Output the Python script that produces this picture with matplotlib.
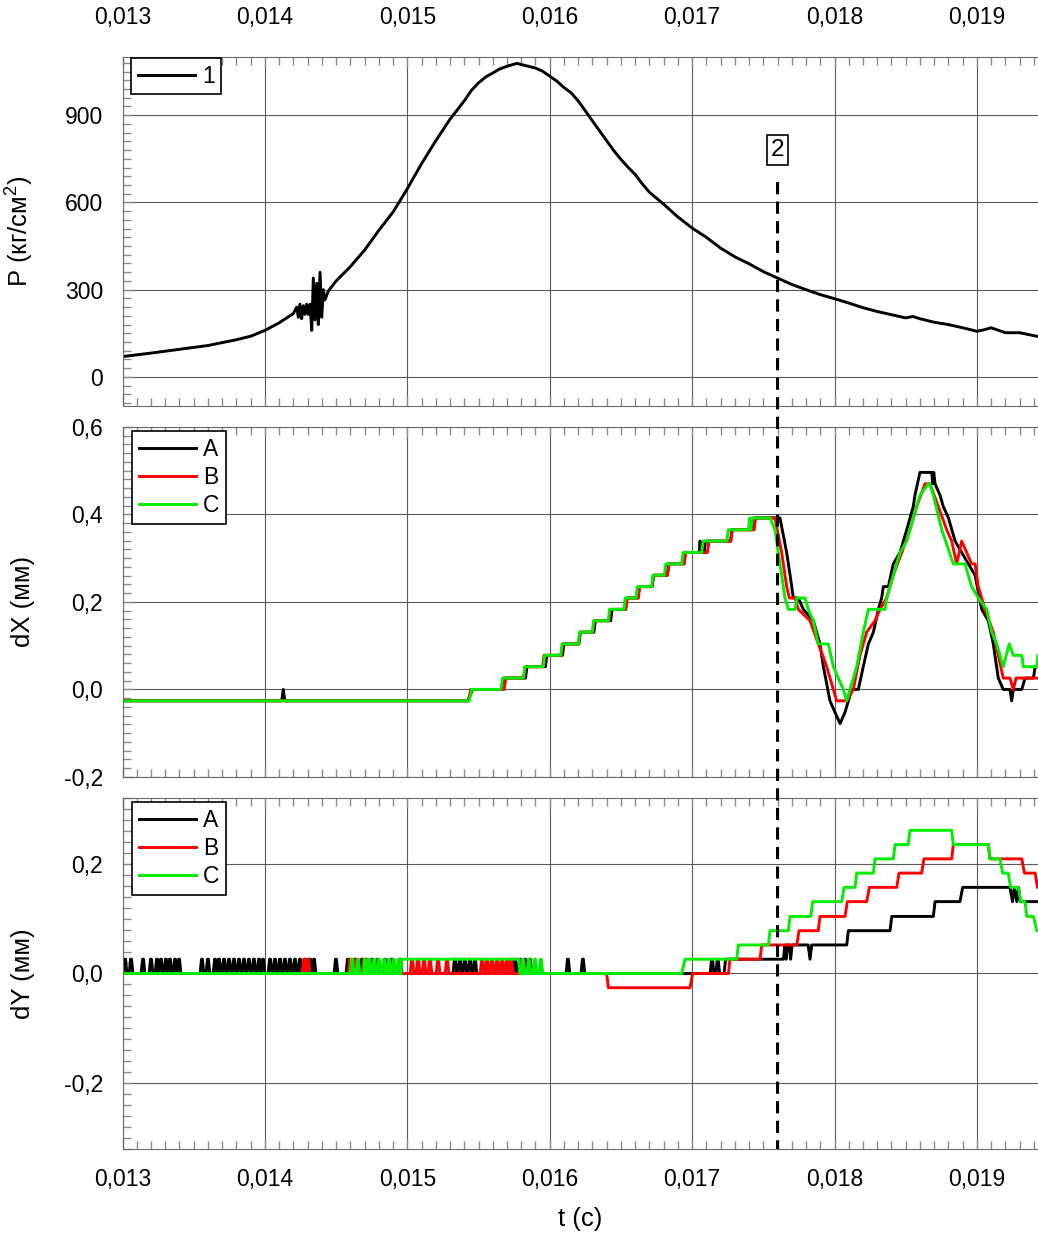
import numpy as np
import matplotlib
matplotlib.use('Agg')
import matplotlib.pyplot as plt
from matplotlib.ticker import MultipleLocator, FuncFormatter
from matplotlib.patches import ConnectionPatch

plt.rcParams['font.family'] = ['Liberation Sans', 'DejaVu Sans']
plt.rcParams['mathtext.fontset'] = 'custom'
plt.rcParams['mathtext.rm'] = 'Liberation Sans'
plt.rcParams['font.size'] = 16.5

# pressure trace, (t [s], P [kg/cm2])
pressure = [
    (0.01300, 70), (0.01320, 82), (0.01340, 95), (0.01360, 108), (0.01380, 128),
    (0.01390, 140), (0.01400, 160), (0.01410, 186), (0.01420, 218), (0.014223, 240),
    (0.014235, 205), (0.014246, 250), (0.014258, 200), (0.014270, 245), (0.014282, 215),
    (0.014293, 250), (0.014305, 215), (0.014317, 250), (0.014329, 160), (0.014340, 340),
    (0.014352, 196), (0.014364, 322), (0.014375, 180), (0.014387, 360), (0.014399, 205),
    (0.014410, 300), (0.014422, 265), (0.014445, 295), (0.01450, 330), (0.01460, 379),
    (0.01470, 436), (0.01480, 504), (0.01490, 567), (0.01500, 647), (0.01510, 733),
    (0.01520, 812), (0.01530, 886), (0.01540, 949), (0.01545, 985), (0.01550, 1011),
    (0.01555, 1031), (0.01560, 1045), (0.01565, 1059), (0.01570, 1068), (0.01577, 1078),
    (0.01580, 1074), (0.01585, 1068), (0.01590, 1062), (0.01595, 1051), (0.01600, 1034),
    (0.01605, 1017), (0.01610, 995), (0.01615, 977), (0.01620, 949), (0.01625, 915),
    (0.01630, 880), (0.01635, 846), (0.01640, 812), (0.01645, 778), (0.01650, 748),
    (0.01655, 721), (0.01660, 696), (0.01665, 664), (0.01670, 635), (0.01680, 594),
    (0.01690, 550), (0.01700, 512), (0.01710, 480), (0.01720, 443), (0.01730, 413),
    (0.01740, 389), (0.01750, 362), (0.01760, 340), (0.01770, 318), (0.01780, 300),
    (0.01790, 283), (0.01800, 269), (0.01810, 254), (0.01820, 238), (0.01830, 225),
    (0.01840, 214), (0.01850, 203), (0.01855, 208), (0.01860, 200), (0.01870, 188),
    (0.01880, 180), (0.01890, 169), (0.01900, 157), (0.01905, 162), (0.01910, 169),
    (0.01920, 152), (0.01930, 152), (0.01942, 140),
]

# displacement dX, mm
dx_a = [
    (0.01300, -0.026), (0.014118, -0.026), (0.014129, 0.0), (0.014140, -0.026),
    (0.015424, -0.026), (0.015459, 0.0), (0.015660, 0.0), (0.015675, 0.026),
    (0.015830, 0.026), (0.015840, 0.052), (0.015970, 0.052), (0.015980, 0.078),
    (0.016090, 0.078), (0.016100, 0.104), (0.016205, 0.104), (0.016215, 0.131),
    (0.016310, 0.131), (0.016320, 0.157), (0.016428, 0.157), (0.016438, 0.183),
    (0.016532, 0.183), (0.016542, 0.209), (0.016620, 0.209), (0.016630, 0.235),
    (0.016720, 0.235), (0.016730, 0.261), (0.016825, 0.261), (0.016835, 0.287),
    (0.016942, 0.287), (0.016952, 0.313), (0.017050, 0.313), (0.017056, 0.339),
    (0.017062, 0.313), (0.017085, 0.313), (0.017093, 0.339), (0.017270, 0.339),
    (0.017280, 0.365), (0.017425, 0.365), (0.017435, 0.392), (0.017617, 0.392),
    (0.017664, 0.313), (0.017688, 0.261), (0.017711, 0.209), (0.017746, 0.209),
    (0.017781, 0.183), (0.017851, 0.157), (0.017898, 0.104), (0.017922, 0.052),
    (0.017968, -0.026), (0.018003, -0.052), (0.018039, -0.078), (0.018074, -0.052),
    (0.018121, 0.0), (0.018167, 0.0), (0.018202, 0.052), (0.018238, 0.104),
    (0.018273, 0.131), (0.018308, 0.183), (0.018331, 0.209), (0.018343, 0.235),
    (0.018378, 0.235), (0.018413, 0.287), (0.018460, 0.313), (0.018507, 0.365),
    (0.018553, 0.418), (0.018565, 0.444), (0.018600, 0.496), (0.018683, 0.496),
    (0.018690, 0.470), (0.018697, 0.496), (0.018706, 0.470), (0.018741, 0.444),
    (0.018764, 0.418), (0.018800, 0.392), (0.018847, 0.339), (0.018893, 0.313),
    (0.018940, 0.287), (0.018987, 0.261), (0.019034, 0.183), (0.019080, 0.157),
    (0.019115, 0.104), (0.019150, 0.026), (0.019185, 0.0), (0.019232, 0.0),
    (0.019244, -0.026), (0.019256, 0.0), (0.019315, 0.0), (0.019338, 0.026),
    (0.019397, 0.026), (0.019409, 0.052), (0.019429, 0.052),
]
dx_b = [
    (0.01300, -0.026), (0.015430, -0.026), (0.015445, 0.0), (0.015680, 0.0),
    (0.015692, 0.026), (0.015818, 0.026), (0.015828, 0.052), (0.015950, 0.052),
    (0.015960, 0.078), (0.016082, 0.078), (0.016092, 0.104), (0.016203, 0.104),
    (0.016212, 0.131), (0.016302, 0.131), (0.016312, 0.157), (0.016415, 0.157),
    (0.016425, 0.183), (0.016535, 0.183), (0.016545, 0.209), (0.016622, 0.209),
    (0.016632, 0.235), (0.016718, 0.235), (0.016728, 0.261), (0.016828, 0.261),
    (0.016838, 0.287), (0.016945, 0.287), (0.016955, 0.313), (0.017108, 0.313),
    (0.017118, 0.339), (0.017272, 0.339), (0.017282, 0.365), (0.017436, 0.365),
    (0.017446, 0.392), (0.017582, 0.392), (0.017629, 0.313), (0.017664, 0.235),
    (0.017683, 0.209), (0.017723, 0.209), (0.017746, 0.183), (0.017828, 0.157),
    (0.017886, 0.104), (0.017917, 0.078), (0.017945, 0.052), (0.017992, 0.0),
    (0.018015, -0.026), (0.018086, -0.026), (0.018132, 0.0), (0.018179, 0.078),
    (0.018226, 0.131), (0.018284, 0.157), (0.018320, 0.183), (0.018366, 0.209),
    (0.018413, 0.261), (0.018472, 0.313), (0.018530, 0.365), (0.018577, 0.418),
    (0.018635, 0.470), (0.018670, 0.470), (0.018729, 0.418), (0.018788, 0.365),
    (0.018823, 0.339), (0.018858, 0.287), (0.018893, 0.339), (0.018928, 0.313),
    (0.018963, 0.287), (0.018987, 0.287), (0.019010, 0.235), (0.019057, 0.183),
    (0.019115, 0.131), (0.019150, 0.078), (0.019185, 0.026), (0.019232, 0.026),
    (0.019256, 0.0), (0.019275, 0.026), (0.019429, 0.026),
]
dx_c = [
    (0.01300, -0.026), (0.015435, -0.026), (0.015452, 0.0), (0.015658, 0.0),
    (0.015670, 0.026), (0.015815, 0.026), (0.015826, 0.052), (0.015955, 0.052),
    (0.015965, 0.078), (0.016077, 0.078), (0.016087, 0.104), (0.016201, 0.104),
    (0.016210, 0.131), (0.016299, 0.131), (0.016308, 0.157), (0.016412, 0.157),
    (0.016420, 0.183), (0.016522, 0.183), (0.016530, 0.209), (0.016606, 0.209),
    (0.016615, 0.235), (0.016716, 0.235), (0.016725, 0.261), (0.016805, 0.261),
    (0.016815, 0.287), (0.016927, 0.287), (0.016938, 0.313), (0.017067, 0.313),
    (0.017078, 0.339), (0.017243, 0.339), (0.017255, 0.365), (0.017395, 0.365),
    (0.017405, 0.392), (0.017412, 0.365), (0.017424, 0.392), (0.017547, 0.392),
    (0.017582, 0.365), (0.017605, 0.313), (0.017629, 0.261), (0.017652, 0.209),
    (0.017676, 0.183), (0.017723, 0.183), (0.017735, 0.209), (0.017793, 0.209),
    (0.017816, 0.183), (0.017851, 0.157), (0.017886, 0.104), (0.017957, 0.104),
    (0.017992, 0.052), (0.018027, 0.026), (0.018062, 0.0), (0.018086, -0.026),
    (0.018109, 0.0), (0.018156, 0.052), (0.018202, 0.131), (0.018238, 0.183),
    (0.018355, 0.183), (0.018366, 0.209), (0.018413, 0.261), (0.018460, 0.313),
    (0.018507, 0.339), (0.018553, 0.392), (0.018600, 0.444), (0.018659, 0.470),
    (0.018670, 0.470), (0.018694, 0.444), (0.018753, 0.365), (0.018834, 0.287),
    (0.018916, 0.287), (0.018963, 0.235), (0.019010, 0.209), (0.019069, 0.183),
    (0.019104, 0.131), (0.019139, 0.104), (0.019185, 0.052), (0.019227, 0.104),
    (0.019256, 0.078), (0.019315, 0.078), (0.019326, 0.052), (0.019420, 0.052),
    (0.019429, 0.078),
]

# displacement dY, mm
dy_a = [
    (0.01300, 0.0), (0.017225, 0.0), (0.017235, 0.026), (0.017641, 0.026),
    (0.017652, 0.052), (0.017660, 0.026), (0.017670, 0.052), (0.017682, 0.052),
    (0.017692, 0.026), (0.017702, 0.052), (0.017815, 0.052), (0.017828, 0.026),
    (0.017840, 0.052), (0.018086, 0.052), (0.018097, 0.078), (0.018390, 0.078),
    (0.018402, 0.104), (0.018694, 0.104), (0.018706, 0.131), (0.018881, 0.131),
    (0.018900, 0.157), (0.019232, 0.157), (0.019250, 0.131), (0.019262, 0.157),
    (0.019280, 0.131), (0.019292, 0.157), (0.019305, 0.131), (0.019429, 0.131),
]
dy_b = [
    (0.01300, 0.0), (0.016400, 0.0), (0.016412, -0.026), (0.016985, -0.026),
    (0.017004, 0.0), (0.017255, 0.0), (0.017266, 0.026), (0.017477, 0.026),
    (0.017489, 0.052), (0.017735, 0.052), (0.017751, 0.078), (0.017886, 0.078),
    (0.017898, 0.104), (0.018074, 0.104), (0.018090, 0.131), (0.018226, 0.131),
    (0.018245, 0.157), (0.018437, 0.157), (0.018453, 0.183), (0.018612, 0.183),
    (0.018628, 0.209), (0.018823, 0.209), (0.018834, 0.235), (0.019080, 0.235),
    (0.019092, 0.209), (0.019315, 0.209), (0.019334, 0.183), (0.019409, 0.183),
    (0.019425, 0.157), (0.019429, 0.157),
]
dy_c = [
    (0.01300, 0.0), (0.014955, 0.0), (0.014962, 0.026), (0.015783, 0.026),
    (0.015790, 0.0), (0.016927, 0.0), (0.016950, 0.026), (0.017313, 0.026),
    (0.017325, 0.052), (0.017536, 0.052), (0.017547, 0.078), (0.017676, 0.078),
    (0.017688, 0.104), (0.017833, 0.104), (0.017847, 0.131), (0.018051, 0.131),
    (0.018067, 0.157), (0.018144, 0.157), (0.018156, 0.183), (0.018273, 0.183),
    (0.018284, 0.209), (0.018413, 0.209), (0.018425, 0.235), (0.018518, 0.235),
    (0.018530, 0.261), (0.018823, 0.261), (0.018834, 0.235), (0.019080, 0.235),
    (0.019092, 0.209), (0.019162, 0.209), (0.019181, 0.183), (0.019220, 0.183),
    (0.019237, 0.157), (0.019291, 0.157), (0.019308, 0.131), (0.019338, 0.131),
    (0.019350, 0.104), (0.019397, 0.104), (0.019420, 0.078), (0.019429, 0.078),
]

# one-count jitter of the dY sensors around zero (spike centre times, s)
dy_a_spikes = [
    0.013018, 0.013060, 0.013144, 0.013200, 0.013242, 0.013270, 0.013305, 0.013333,
    0.013369, 0.013397, 0.013558, 0.013600, 0.013650, 0.013678, 0.013713, 0.013748,
    0.013783, 0.013818, 0.013853, 0.013888, 0.013923, 0.013959, 0.013987, 0.014036,
    0.014071, 0.014106, 0.014141, 0.014176, 0.014211, 0.014246, 0.014282, 0.014317,
    0.014345, 0.014499, 0.014583, 0.014633, 0.014682, 0.014710, 0.014752, 0.014794,
    0.014843, 0.014892, 0.014948, 0.015334, 0.015369, 0.015404, 0.015440, 0.015475,
    0.015756, 0.015791, 0.015826, 0.015861, 0.016128, 0.016233, 0.017140, 0.017180,
]
dy_b_spikes = [
    0.014275, 0.014303, 0.014598, 0.014640, 0.014696, 0.015033, 0.015075, 0.015117,
    0.015159, 0.015216, 0.015279, 0.015525, 0.015560, 0.015595, 0.015631, 0.015666,
    0.015701, 0.015729,
]
dy_c_spikes = [
    0.014612, 0.014654, 0.014703, 0.014731, 0.014766, 0.014801, 0.014836, 0.014871,
    0.014906, 0.014941, 0.015812, 0.015854, 0.015896, 0.015938,
]
dy_step = 0.026

t_mark = 0.0176
p_mark_label = 781
p_mark_top = 670

colors = {'A': 'black', 'B': '#ff0000', 'C': '#00ee00'}
LW = 2.1


def spike_path(centres, base, top, width=2.6e-5):
    xs, ys = [], []
    for c in centres:
        xs += [c - width / 2, c - width / 8, c + width / 8, c + width / 2, np.nan]
        ys += [base, top, top, base, np.nan]
    return xs, ys


def comma(fmt):
    def f(v, pos):
        if abs(v) < 1e-12:
            v = 0.0
        return format(v, fmt).replace('.', ',')
    return FuncFormatter(f)


fig = plt.figure(figsize=(10.38, 12.36), dpi=100)
left = 122.5 / 1038
width = 1 - left
ax1 = fig.add_axes([left, 0.6715, width, 0.2824])
ax2 = fig.add_axes([left, 0.3714, width, 0.2832])
ax3 = fig.add_axes([left, 0.0704, width, 0.2840])

# pressure
t, p = zip(*pressure)
ax1.plot(t, p, color='black', lw=LW, label='1')
ax1.set_ylim(-100, 1100)
ax1.yaxis.set_major_locator(MultipleLocator(300))
ax1.yaxis.set_minor_locator(MultipleLocator(30))
ax1.yaxis.set_major_formatter(comma('.0f'))
ax1.set_ylabel('P (кг/см$^{\\mathregular{2}}$)', fontsize=18.5)

# dX
for name, series in (('A', dx_a), ('B', dx_b), ('C', dx_c)):
    t, v = zip(*series)
    ax2.plot(t, v, color=colors[name], lw=LW, label=name)
ax2.set_ylim(-0.2, 0.6)
ax2.set_ylabel('dX (мм)', fontsize=18.5)

# dY
for name, series, spikes in (('A', dy_a, dy_a_spikes), ('B', dy_b, dy_b_spikes),
                             ('C', dy_c, dy_c_spikes)):
    t, v = zip(*series)
    ax3.plot(t, v, color=colors[name], lw=LW, label=name)
    sx, sy = spike_path(spikes, 0.0, dy_step)
    ax3.plot(sx, sy, color=colors[name], lw=LW)
ax3.set_ylim(-0.32, 0.32)
ax3.set_ylabel('dY (мм)', fontsize=18.5)
ax3.set_xlabel('t (с)', fontsize=18.5, labelpad=11)

for ax in (ax2, ax3):
    ax.yaxis.set_major_locator(MultipleLocator(0.2))
    ax.yaxis.set_minor_locator(MultipleLocator(0.02))
    ax.yaxis.set_major_formatter(comma('.1f'))

for ax in (ax1, ax2, ax3):
    ax.set_xlim(0.013, 0.019429)
    ax.xaxis.set_major_locator(MultipleLocator(0.001))
    ax.xaxis.set_minor_locator(MultipleLocator(0.0001))
    ax.xaxis.set_major_formatter(comma('.3f'))
    ax.grid(True, which='major', color='#5a5a5a', lw=0.8)
    ax.tick_params(which='both', direction='in', top=True, bottom=True,
                   left=True, right=False, color='#8a8a8a', width=1,
                   labelsize=16.5)
    ax.tick_params(which='major', length=7)
    ax.tick_params(which='minor', length=6)
    ax.tick_params(axis='y', pad=14)
    ax.tick_params(axis='x', labelbottom=False, labeltop=False)
    ax.spines['right'].set_visible(False)
    for s in ('left', 'top', 'bottom'):
        ax.spines[s].set_color('#6a6a6a')
    ax.yaxis.set_label_coords(-0.096, 0.5)

ax1.tick_params(axis='x', labeltop=True, pad=20)
ax3.tick_params(axis='x', labelbottom=True, pad=14)

leg_kw = dict(loc='upper left', borderaxespad=0, fancybox=False, framealpha=1,
              edgecolor='black', handlelength=2.5, handletextpad=0.3,
              borderpad=0.3, labelspacing=0.22, fontsize=16.5)
lg = ax1.legend(bbox_to_anchor=(0.009, 0.998), **leg_kw)
lg.get_frame().set_linewidth(1.2)
for ax in (ax2, ax3):
    lg = ax.legend(bbox_to_anchor=(0.0104, 0.989), **leg_kw)
    lg.get_frame().set_linewidth(1.2)

# moment marker 2
ax1.text(t_mark, p_mark_label, '2', ha='center', va='center', fontsize=17.5,
         bbox=dict(boxstyle='square,pad=0.17', fc='white', ec='black', lw=1.2))
con = ConnectionPatch(xyA=(t_mark, p_mark_top), coordsA=ax1.transData,
                      xyB=(t_mark, -0.32), coordsB=ax3.transData,
                      color='black', lw=2.2, linestyle=(0, (4.0, 2.4)),
                      capstyle='butt', zorder=5)
fig.add_artist(con)

fig.savefig('out.png', dpi=100)
